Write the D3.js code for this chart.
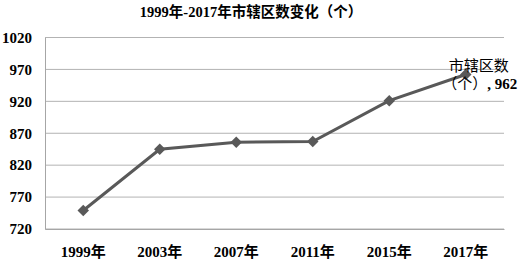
<!DOCTYPE html>
<html>
<head>
<meta charset="utf-8">
<script src="https://cdn.jsdelivr.net/npm/d3@7"></script>
<style>
  body { margin: 0; background: #fff; }
  svg text { font-family: "Liberation Serif", "Noto Sans CJK SC", serif; font-weight: bold; fill: #000; }
</style>
</head>
<body>
<svg id="chart" width="520" height="261"></svg>
<script>
const years = ['1999年', '2003年', '2007年', '2011年', '2015年', '2017年'];
const counts = [749, 845, 856, 857, 921, 962];
const yTicks = [720, 770, 820, 870, 920, 970, 1020];
const seriesName = '市辖区数（个）';

const svg = d3.select('svg#chart');
const margin = { top: 37.5, right: 16, bottom: 32, left: 45 };
const width = +svg.attr('width') - margin.left - margin.right;
const height = +svg.attr('height') - margin.top - margin.bottom;

const g = svg.append('g').attr('transform', `translate(${margin.left},${margin.top})`);

const xScale = d3.scaleBand().domain(years).range([0, width]);
const yScale = d3.scaleLinear().domain([720, 1020]).range([height, 0]);

// title
svg.append('text')
    .attr('x', 251)
    .attr('y', 17)
    .attr('text-anchor', 'middle')
    .style('font-size', '14.5px')
    .text('1999年-2017年市辖区数变化（个）');

// gridlines
g.selectAll('line.grid')
  .data(yTicks)
  .join('line')
    .attr('class', 'grid')
    .attr('x1', 0)
    .attr('x2', width)
    .attr('y1', d => yScale(d))
    .attr('y2', d => yScale(d))
    .attr('stroke', '#b3b3b3')
    .attr('stroke-width', 1);

// left and bottom axes
const yAxis = g.append('g')
    .call(d3.axisLeft(yScale).tickValues(yTicks).tickFormat(d3.format('d')).tickSize(0).tickPadding(13));
yAxis.select('.domain').attr('stroke', '#a6a6a6');
yAxis.selectAll('text').style('font-size', '15px');

const xAxis = g.append('g')
    .attr('transform', `translate(0,${height})`)
    .call(d3.axisBottom(xScale).tickSize(0).tickPadding(17));
xAxis.select('.domain').attr('stroke', '#a6a6a6');
xAxis.selectAll('text').style('font-size', '15px');

// line
const line = d3.line()
    .x((d, i) => xScale(years[i]) + xScale.bandwidth() / 2)
    .y(d => yScale(d));

g.append('path')
    .datum(counts)
    .attr('fill', 'none')
    .attr('stroke', '#595959')
    .attr('stroke-width', 3)
    .attr('d', line);

// diamond markers
g.selectAll('path.marker')
  .data(counts)
  .join('path')
    .attr('class', 'marker')
    .attr('transform', (d, i) => `translate(${xScale(years[i]) + xScale.bandwidth() / 2},${yScale(d)})`)
    .attr('d', d3.symbol(d3.symbolDiamond2, 85))
    .attr('fill', '#595959');

// data label on last point
const last = counts.length - 1;
const lx = xScale(years[last]) + xScale.bandwidth() / 2;
const ly = yScale(counts[last]);
const label = g.append('text')
    .attr('text-anchor', 'middle')
    .style('font-size', '15px');
label.append('tspan')
    .attr('x', lx + 13)
    .attr('y', ly - 4)
    .style('font-weight', 'normal')
    .text(seriesName.slice(0, 4));
const line2 = label.append('tspan')
    .attr('x', lx + 14)
    .attr('y', ly + 14);
line2.append('tspan').style('font-weight', 'normal').text(seriesName.slice(4));
line2.append('tspan').text(', ' + counts[last]);
</script>
</body>
</html>
